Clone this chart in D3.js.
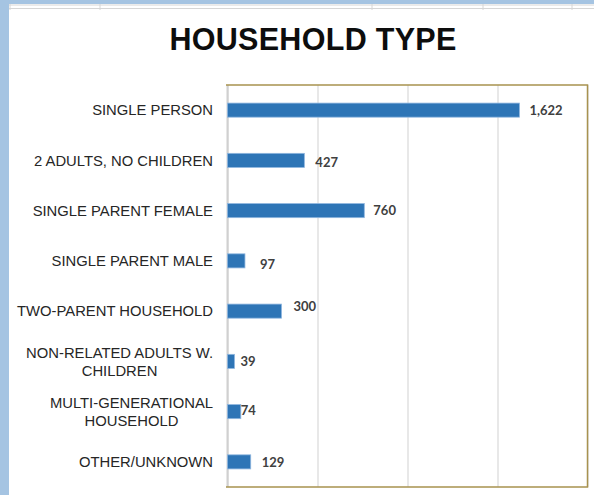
<!DOCTYPE html>
<html>
<head>
<meta charset="utf-8">
<script src="https://cdn.jsdelivr.net/npm/d3@7"></script>
<style>
  body { margin: 0; background: #fff; }
  svg { display: block; }
</style>
</head>
<body>
<div class="canvas"></div>
<script>
const categories = [
  'SINGLE PERSON',
  '2 ADULTS, NO CHILDREN',
  'SINGLE PARENT FEMALE',
  'SINGLE PARENT MALE',
  'TWO-PARENT HOUSEHOLD',
  'NON-RELATED ADULTS W.|CHILDREN',
  'MULTI-GENERATIONAL|HOUSEHOLD',
  'OTHER/UNKNOWN',
];
const values = [1622, 427, 760, 97, 300, 39, 74, 129];
const gridTicks = [0, 500, 1000, 1500, 2000];

// hand-placed data labels in the original, [dx, dy] from the default spot
const labelNudge = [[0, 0], [1, 2], [-1, 0], [5, 3], [2, -5], [-4, 0], [-10, -1], [1, 0]];

const width = 594, height = 495;

const svg = d3.select('.canvas')
  .append('svg')
  .attr('width', width)
  .attr('height', height);

// spreadsheet window bits around the chart
svg.append('rect').attr('x', 0).attr('y', 0).attr('width', width).attr('height', 4).attr('fill', '#a5c4e2');
svg.append('rect').attr('x', 0).attr('y', 0).attr('width', 9).attr('height', height).attr('fill', '#a5c4e2');
[5, 8.5].forEach(y => {
  svg.append('line').attr('x1', 9).attr('x2', width).attr('y1', y).attr('y2', y)
    .attr('stroke', '#d6d6d6').attr('stroke-width', 1);
});
[10, 100, 372, 483, 572].forEach(x => {
  svg.append('line').attr('x1', x).attr('x2', x).attr('y1', 4).attr('y2', 10)
    .attr('stroke', '#d6d6d6').attr('stroke-width', 1);
});

svg.append('text')
  .attr('x', 313)
  .attr('y', 50)
  .attr('text-anchor', 'middle')
  .style('font-family', '"Liberation Sans", Arial, sans-serif')
  .style('font-weight', 'bold')
  .style('font-size', '30.5px')
  .style('letter-spacing', '0.3px')
  .attr('fill', '#0d0d0d')
  .text('HOUSEHOLD TYPE');

const plot = { left: 227.5, right: 587.5, top: 85, bottom: 487 };

const x = d3.scaleLinear()
  .domain([0, 2000])
  .range([plot.left, plot.right]);

const y = d3.scaleBand()
  .domain(categories)
  .range([plot.top, plot.bottom])
  .paddingInner(0.72)
  .paddingOuter(0.36);

// vertical gridlines
const grid = svg.append('g')
  .attr('transform', `translate(0, ${plot.bottom})`)
  .call(d3.axisBottom(x).tickValues(gridTicks).tickSize(plot.bottom - plot.top).tickFormat(''))
  .call(g => g.select('.domain').remove());
grid.selectAll('.tick line')
  .attr('y2', -(plot.bottom - plot.top))
  .attr('stroke', '#d9d9d9')
  .attr('stroke-width', 1.2);

// category axis line
svg.append('line')
  .attr('x1', x(0)).attr('x2', x(0))
  .attr('y1', plot.top).attr('y2', plot.bottom)
  .attr('stroke', '#d0d0d0')
  .attr('stroke-width', 2);

// plot area border (top, right, bottom)
svg.append('path')
  .attr('d', `M${plot.left - 1.5},${plot.top} H${plot.right} V${plot.bottom} H${plot.left - 1.5}`)
  .attr('fill', 'none')
  .attr('stroke', '#a8924f')
  .attr('stroke-width', 1.5);

svg.append('g')
  .selectAll('rect')
  .data(values)
  .join('rect')
  .attr('x', x(0))
  .attr('y', (d, i) => y(categories[i]))
  .attr('width', d => x(d) - x(0))
  .attr('height', y.bandwidth())
  .attr('fill', '#2e75b6')
  .attr('stroke', '#8fb6df')
  .attr('stroke-width', 0.8);

// value labels
svg.append('g')
  .selectAll('text')
  .data(values)
  .join('text')
  .attr('x', (d, i) => x(d) + 10 + labelNudge[i][0])
  .attr('y', (d, i) => y(categories[i]) + y.bandwidth() / 2 + labelNudge[i][1])
  .attr('dy', '0.36em')
  .style('font-family', 'Lato, "Open Sans", sans-serif')
  .style('font-weight', 'bold')
  .style('font-size', '13px')
  .attr('fill', '#404040')
  .text(d => d3.format(',')(d));

// category labels, wrapped lines centred on each other, block right-aligned
const labelRight = 213;
const lineGap = 18;
const catG = svg.append('g')
  .style('font-family', '"Liberation Sans", Arial, sans-serif')
  .style('font-size', '14.8px')
  .attr('fill', '#262626');

categories.forEach(cat => {
  const lines = cat.split('|');
  const cy = y(cat) + y.bandwidth() / 2;
  const t = catG.append('text');
  lines.forEach((ln, j) => {
    t.append('tspan')
      .attr('y', cy + (j - (lines.length - 1) / 2) * lineGap)
      .attr('dy', '0.36em')
      .text(ln);
  });
  const spans = t.selectAll('tspan').nodes();
  const w = d3.max(spans, s => s.getComputedTextLength());
  t.attr('text-anchor', 'middle');
  t.selectAll('tspan').attr('x', labelRight - w / 2);
});
</script>
</body>
</html>
